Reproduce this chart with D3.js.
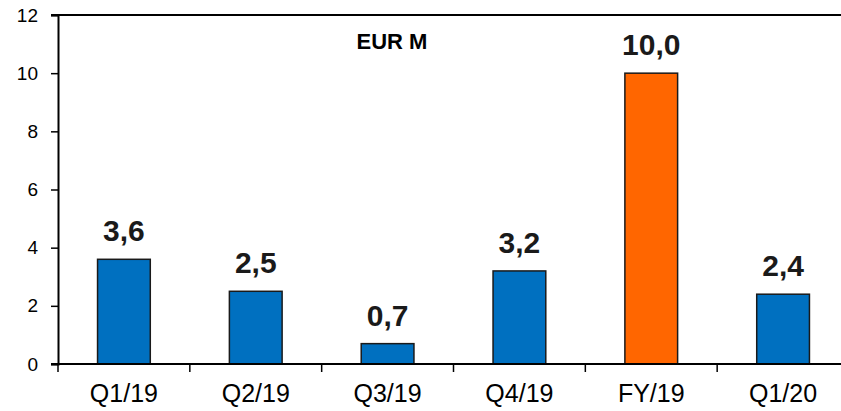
<!DOCTYPE html>
<html>
<head>
<meta charset="utf-8">
<script src="https://cdn.jsdelivr.net/npm/d3@7"></script>
<style>
  body { margin: 0; background: #fff; }
  text { font-family: Arial, "Liberation Sans", sans-serif; }
</style>
</head>
<body>
<svg id="chart" width="841" height="411"></svg>
<script>
var categories = ["Q1/19", "Q2/19", "Q3/19", "Q4/19", "FY/19", "Q1/20"],
    values = [3.6, 2.5, 0.7, 3.2, 10.0, 2.4],
    yTicks = [0, 2, 4, 6, 8, 10, 12];

var svg = d3.select("#chart"),
    plotLeft = 58, plotRight = 849, plotTop = 15, plotBottom = 364;

var x = d3.scaleBand().domain(categories).range([plotLeft, plotRight]).paddingInner(0.6).paddingOuter(0.3);
var xOuter = d3.scaleBand().domain(categories).range([plotLeft, plotRight]);
var y = d3.scaleLinear().domain([0, 12]).range([plotBottom, plotTop]);

// top border of the plot
svg.append("line")
  .attr("x1", plotLeft - 7).attr("x2", plotRight)
  .attr("y1", y(12)).attr("y2", y(12))
  .attr("stroke", "#000").attr("stroke-width", 2);

// y axis
var yAxis = svg.append("g")
  .attr("transform", "translate(" + plotLeft + ",0)")
  .call(d3.axisLeft(y).tickValues(yTicks).tickSize(7).tickPadding(13).tickFormat(d3.format("d")));
yAxis.select(".domain").attr("stroke-width", 2);
yAxis.selectAll(".tick line").attr("stroke-width", 1.5);
yAxis.selectAll("text").attr("font-size", 19).attr("fill", "#000");

// bars
svg.selectAll(".bar")
  .data(values)
  .enter().append("rect")
  .attr("x", (d, i) => x(categories[i]))
  .attr("width", x.bandwidth())
  .attr("y", d => y(d))
  .attr("height", d => y(0) - y(d))
  .attr("fill", (d, i) => categories[i] == "FY/19" ? "#FF6600" : "#0070C0")
  .attr("stroke", "#1a1a1a")
  .attr("stroke-width", 1.5);

// value labels
svg.selectAll(".val")
  .data(values)
  .enter().append("text")
  .attr("x", (d, i) => x(categories[i]) + x.bandwidth() / 2)
  .attr("y", d => y(d) - 18)
  .attr("text-anchor", "middle")
  .attr("font-size", 30)
  .attr("font-weight", "bold")
  .attr("fill", "#1a1a1a")
  .text(d => d.toFixed(1).replace(".", ","));

// x axis line and category separators
svg.append("line")
  .attr("x1", plotLeft - 7).attr("x2", plotRight)
  .attr("y1", plotBottom).attr("y2", plotBottom)
  .attr("stroke", "#000").attr("stroke-width", 2);

svg.selectAll(".sep")
  .data(categories)
  .enter().append("line")
  .attr("x1", d => xOuter(d)).attr("x2", d => xOuter(d))
  .attr("y1", plotBottom).attr("y2", plotBottom + 8)
  .attr("stroke", "#000").attr("stroke-width", 1.5);

svg.selectAll(".cat")
  .data(categories)
  .enter().append("text")
  .attr("x", d => xOuter(d) + xOuter.bandwidth() / 2)
  .attr("y", 402)
  .attr("text-anchor", "middle")
  .attr("font-size", 25)
  .attr("fill", "#000")
  .text(d => d);

// unit
svg.append("text")
  .attr("x", 392).attr("y", 49)
  .attr("text-anchor", "middle")
  .attr("font-size", 22)
  .attr("font-weight", "bold")
  .text("EUR M");
</script>
</body>
</html>
